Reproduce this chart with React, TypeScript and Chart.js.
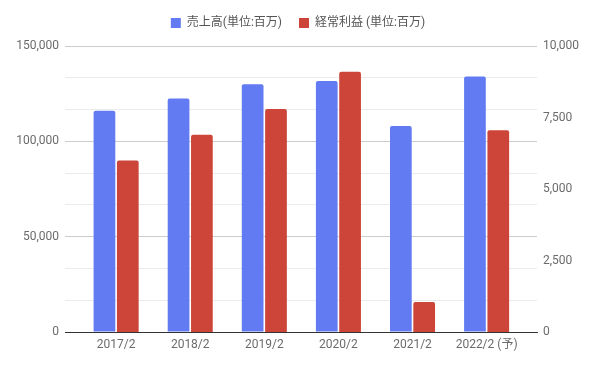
import React, { useEffect, useRef } from "react";
import { Chart, registerables, layouts } from "chart.js";

Chart.register(...registerables);

const categories = ["2017/2", "2018/2", "2019/2", "2020/2", "2021/2", "2022/2 (予)"];
const salesLabel = "売上高(単位:百万)";
const profitLabel = "経常利益 (単位:百万)";
const sales = [116000, 122500, 130000, 131600, 108000, 134000];
const profit = [6000, 6900, 7800, 9100, 1050, 7050];
const leftMax = 150000;
const leftLabelStep = 50000;
const leftGridDivisions = 9;
const rightMax = 10000;
const rightStep = 2500;

const FONT = "Roboto, 'Noto Sans CJK JP', sans-serif";

const spacerPlugin = {
  id: "legendSpacer",
  beforeInit(chart: any) {
    const box: any = {
      position: "top",
      weight: 500,
      fullSize: true,
      options: {},
      width: 0,
      height: 0,
      left: 0,
      top: 0,
      right: 0,
      bottom: 0,
      isHorizontal() {
        return true;
      },
      update(maxWidth: number) {
        this.width = maxWidth;
        this.height = 7;
      },
      draw() {},
    };
    layouts.addBox(chart, box);
  },
};

export default function App() {
  const ref = useRef<HTMLCanvasElement | null>(null);

  useEffect(() => {
    const canvas = ref.current;
    if (!canvas) return;
    const chart = new Chart(canvas, {
      type: "bar",
      data: {
        datasets: [
          {
            label: salesLabel,
            data: sales.map((v, i) => ({ x: i, y: v })),
            backgroundColor: "#627af2",
            borderRadius: 2,
            borderSkipped: "bottom",
            yAxisID: "y",
          },
          {
            label: profitLabel,
            data: profit.map((v, i) => ({ x: i, y: v })),
            backgroundColor: "#cd4439",
            borderRadius: 2,
            borderSkipped: "bottom",
            yAxisID: "y1",
          },
        ],
      },
      plugins: [spacerPlugin],
      options: {
        animation: false,
        responsive: false,
        maintainAspectRatio: false,
        categoryPercentage: 0.63,
        barPercentage: 0.93,
        layout: { padding: 0 },
        plugins: {
          legend: {
            position: "top",
            labels: {
              boxWidth: 10,
              boxHeight: 10,
              padding: 17,
              color: "#555555",
              font: { family: FONT, size: 12 },
            },
          },
          tooltip: { enabled: false },
        },
        scales: {
          x: {
            type: "linear",
            offset: false,
            min: -0.69,
            max: 5.68,
            grid: { display: false, drawTicks: false },
            border: { display: true, color: "#333333", width: 1 },
            afterBuildTicks: (scale: any) => {
              scale.ticks = categories.map((_, i) => ({ value: i }));
            },
            afterFit: (scale: any) => {
              scale.height = 35;
            },
            ticks: {
              padding: 6,
              autoSkip: false,
              maxRotation: 0,
              color: "#6b6b6b",
              font: { family: FONT, size: 12 },
              callback: (v: any) => categories[Math.round(Number(v))] ?? "",
            },
          },
          y: {
            type: "linear",
            position: "left",
            min: 0,
            max: leftMax,
            grid: {
              drawTicks: false,
              color: (ctx: any) => {
                const v = Math.round(ctx.tick?.value ?? 0);
                if (v === 0) return "rgba(0,0,0,0)";
                return v % leftLabelStep === 0 ? "#cccccc" : "#ebebeb";
              },
            },
            border: { display: false },
            afterBuildTicks: (scale: any) => {
              const t = [];
              for (let i = 0; i <= leftGridDivisions; i++) {
                t.push({ value: (leftMax / leftGridDivisions) * i });
              }
              scale.ticks = t;
            },
            afterFit: (scale: any) => {
              scale.width = 65;
            },
            ticks: {
              padding: 6,
              autoSkip: false,
              color: "#6b6b6b",
              font: { family: FONT, size: 12 },
              callback: (v: any) => {
                const n = Math.round(Number(v));
                return n % leftLabelStep === 0 ? n.toLocaleString("en-US") : "";
              },
            },
          },
          y1: {
            type: "linear",
            position: "right",
            min: 0,
            max: rightMax,
            grid: { display: false, drawTicks: false },
            border: { display: false },
            afterFit: (scale: any) => {
              scale.width = 59;
            },
            ticks: {
              stepSize: rightStep,
              padding: 6,
              color: "#6b6b6b",
              font: { family: FONT, size: 12 },
              callback: (v: any) => Number(v).toLocaleString("en-US"),
            },
          },
        },
      },
    } as any);
    return () => chart.destroy();
  }, []);

  return (
    <div style={{ position: "absolute", left: 0, top: 0, width: 596, height: 367, background: "#ffffff" }}>
      <canvas ref={ref} width={596} height={367} style={{ width: 596, height: 367, display: "block" }} />
    </div>
  );
}
